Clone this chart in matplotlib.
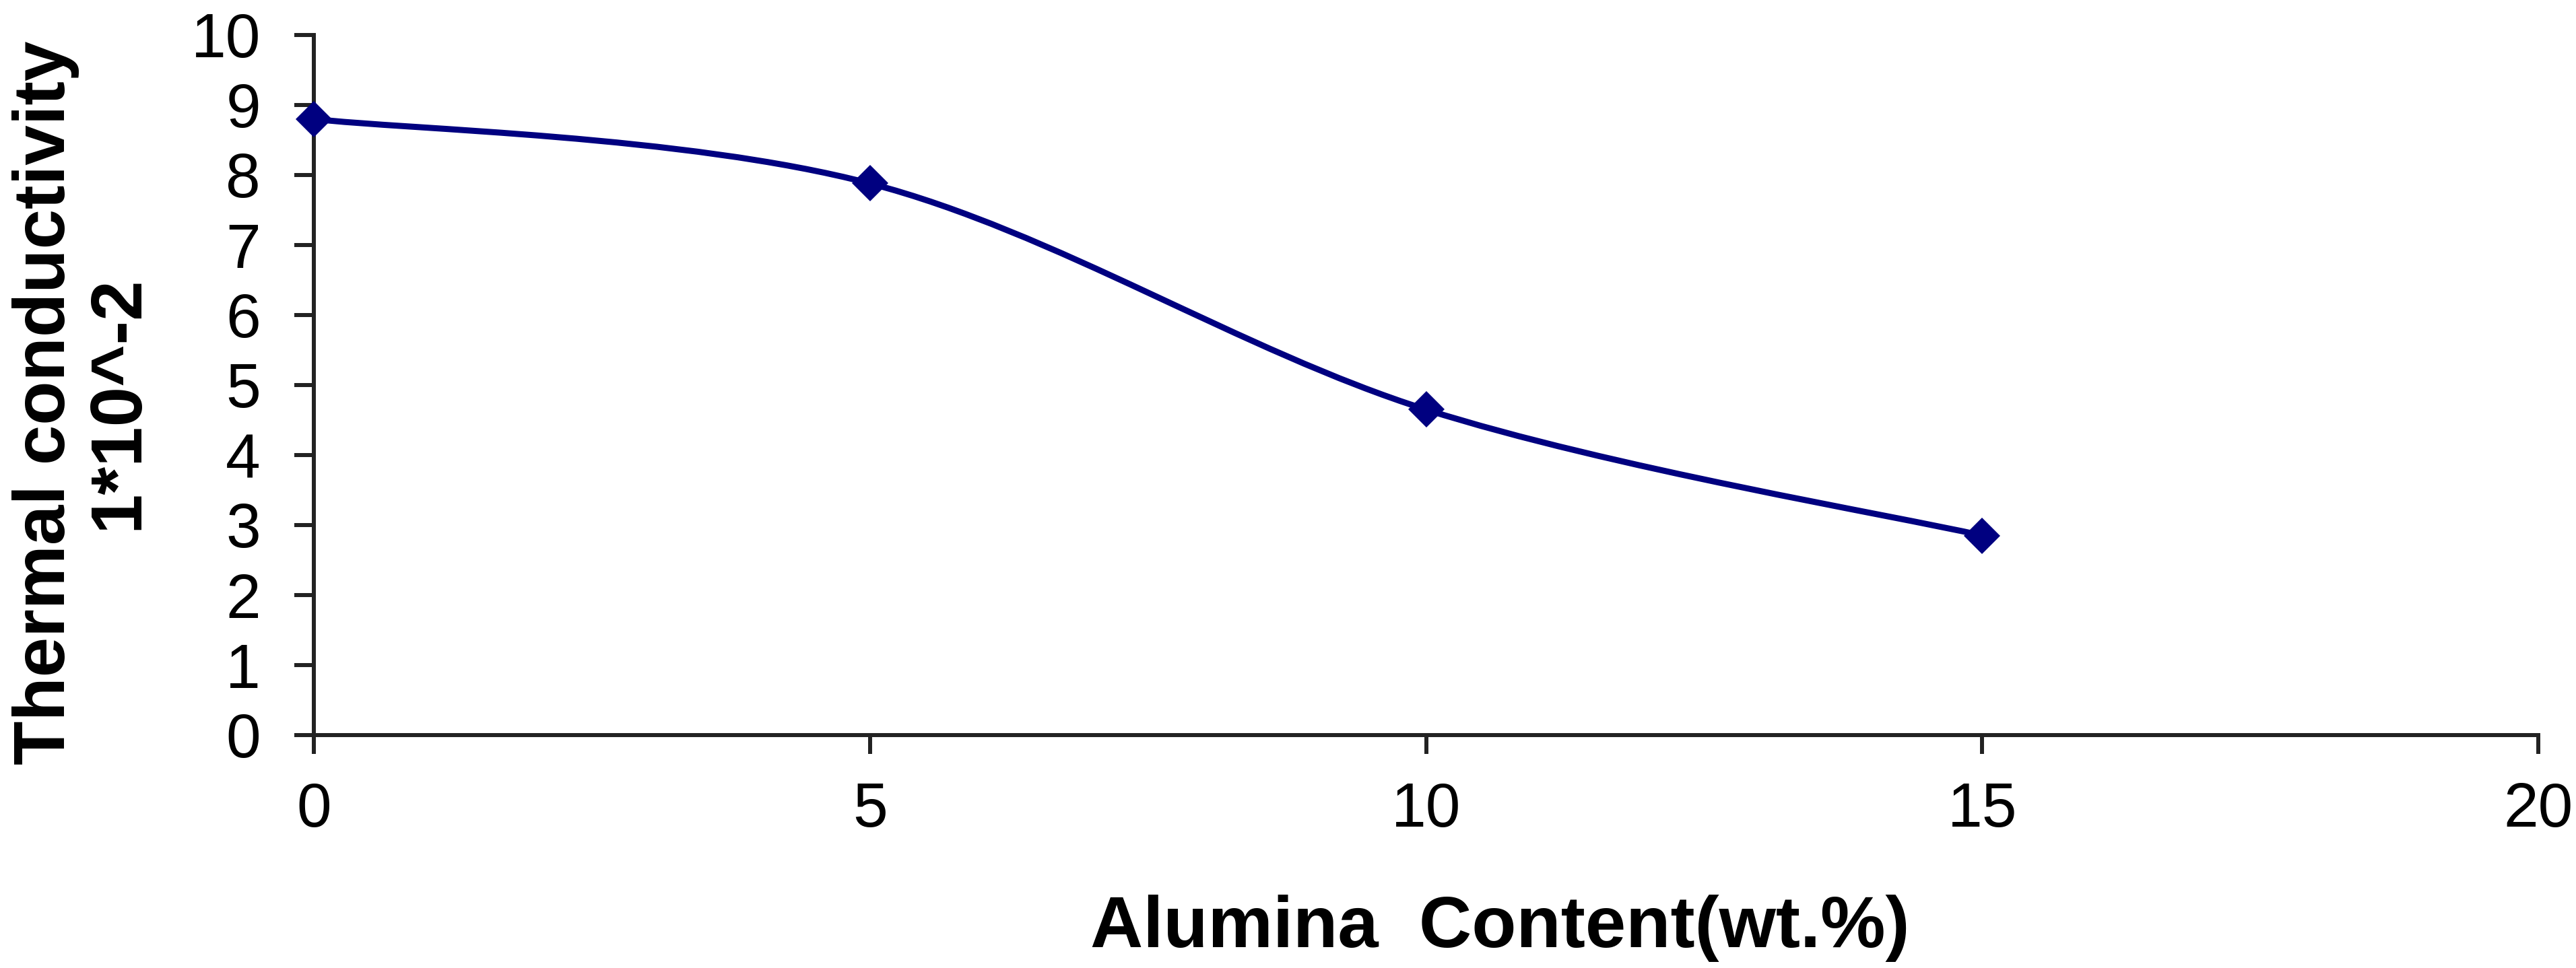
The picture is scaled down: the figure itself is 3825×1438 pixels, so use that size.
import numpy as np
import matplotlib
matplotlib.use("Agg")
import matplotlib.pyplot as plt
from matplotlib.path import Path
from matplotlib.patches import PathPatch

# Data
alumina_wt = [0, 5, 10, 15]
conductivity = [8.8, 7.88, 4.65, 2.85]
x_ticks = [0, 5, 10, 15, 20]
y_ticks = list(range(0, 11))

plt.rcParams['font.family'] = ['Liberation Sans', 'DejaVu Sans']

fig = plt.figure(figsize=(38.25, 14.38), dpi=100)
ax = fig.add_axes([466/3825, 1 - 1092/1438, (3769-466)/3825, (1092-52)/1438])

# Smoothed line (Catmull-Rom style Bezier like Excel's smoothed line)
xs = np.array(alumina_wt, dtype=float)
ys = np.array(conductivity, dtype=float)
pts = np.column_stack([xs, ys])
verts = [tuple(pts[0])]
codes = [Path.MOVETO]
n = len(pts)
for i in range(n - 1):
    p0 = pts[i - 1] if i > 0 else pts[i]
    p1 = pts[i]
    p2 = pts[i + 1]
    p3 = pts[i + 2] if i + 2 < n else pts[i + 1]
    c1 = p1 + (p2 - p0) / 6.0
    c2 = p2 - (p3 - p1) / 6.0
    verts += [tuple(c1), tuple(c2), tuple(p2)]
    codes += [Path.CURVE4] * 3
patch = PathPatch(Path(verts, codes), facecolor='none', edgecolor='#000080', lw=6.5,
                  zorder=2, capstyle='round', joinstyle='round')
ax.add_patch(patch)
ax.plot(xs, ys, linestyle='none', marker='D', markersize=28, color='#000080',
        markeredgecolor='#000080', markeredgewidth=0, zorder=3, clip_on=False)

ax.set_xlim(0, 20)
ax.set_ylim(0, 10)
ax.set_xticks(x_ticks)
ax.set_yticks(y_ticks)
ax.set_xticklabels([str(t) for t in x_ticks])
ax.set_yticklabels([str(t) for t in y_ticks])

axis_color = '#222222'
for s in ['top', 'right']:
    ax.spines[s].set_visible(False)
for s in ['left', 'bottom']:
    ax.spines[s].set_linewidth(4.3)
    ax.spines[s].set_color(axis_color)

ax.tick_params(axis='y', direction='out', length=21, width=4.3, pad=36, labelsize=67,
               color=axis_color)
ax.tick_params(axis='x', direction='out', length=20, width=4.3, pad=30, labelsize=67,
               color=axis_color)

fig.text(2227/3825, 1 - 1407/1438, 'Alumina  Content(wt.%)', ha='center', va='baseline',
         fontsize=78, fontweight='bold')
fig.text(122/3825, 1 - 598/1438, 'Thermal conductivity\n1*10^-2', ha='center', va='center',
         rotation=90, fontsize=77, fontweight='bold', linespacing=1.1, multialignment='center')

fig.savefig('out.png', dpi=100)
